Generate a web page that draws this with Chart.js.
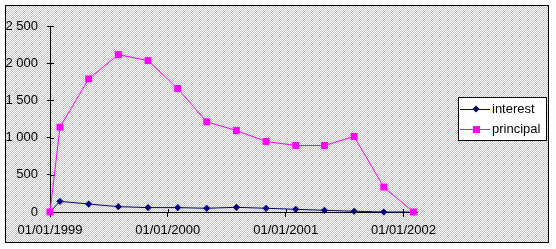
<!DOCTYPE html>
<html>
<head>
<meta charset="utf-8">
<script src="https://cdn.jsdelivr.net/npm/chart.js@4"></script>
<style>
html, body { margin: 0; padding: 0; background: #fff; }
</style>
</head>
<body>
<canvas id="loan-chart" width="556" height="249"></canvas>
<script>
// values
const pointDates = [
    '1999-01-01', '1999-02-01', '1999-05-01', '1999-08-01', '1999-11-01',
    '2000-02-01', '2000-05-01', '2000-08-01', '2000-11-01',
    '2001-02-01', '2001-05-01', '2001-08-01', '2001-11-01', '2002-02-01'
];
const interest = [0, 143, 107, 72, 59, 59, 50, 63, 50, 36, 23, 10, 0, 0];
const principal = [0, 1140, 1790, 2115, 2035, 1660, 1212, 1095, 948, 894, 894, 1015, 335, 0];
const xTickDates = ['1999-01-01', '2000-01-01', '2001-01-01', '2002-01-01'];
const yTicks = [0, 500, 1000, 1500, 2000, 2500];

const FONT = { family: 'Liberation Sans, Arial, sans-serif', size: 13 };
const DAY = 86400000;
const origin = Date.parse(pointDates[0]);

function dayOf(s) {
    return (Date.parse(s) - origin) / DAY;
}

function formatDate(days) {
    const d = new Date(origin + Math.round(days) * DAY);
    const pad = n => String(n).padStart(2, '0');
    return `${pad(d.getUTCDate())}/${pad(d.getUTCMonth() + 1)}/${d.getUTCFullYear()}`;
}

function formatNumber(v) {
    return String(v).replace(/\B(?=(\d{3})+(?!\d))/g, ' ');
}

function makeDither(ctx) {
    const c = document.createElement('canvas');
    c.width = 2;
    c.height = 2;
    const g = c.getContext('2d');
    g.fillStyle = '#ffffff';
    g.fillRect(0, 0, 2, 2);
    g.fillStyle = '#c0c0c0';
    g.fillRect(1, 0, 1, 1);
    g.fillRect(0, 1, 1, 1);
    return ctx.createPattern(c, 'repeat');
}

function drawMarker(ctx, style, x, y, color) {
    ctx.fillStyle = color;
    ctx.beginPath();
    if (style === 'rect') {
        ctx.rect(x - 3, y - 3, 7, 7);
    } else {
        ctx.moveTo(x, y - 3.5);
        ctx.lineTo(x + 3.5, y);
        ctx.lineTo(x, y + 3.5);
        ctx.lineTo(x - 3.5, y);
        ctx.closePath();
    }
    ctx.fill();
}

const backgroundPlugin = {
    id: 'background',
    beforeDraw(chart) {
        const ctx = chart.ctx;
        ctx.save();
        ctx.fillStyle = '#fff';
        ctx.fillRect(0, 0, chart.width, chart.height);
        ctx.fillStyle = makeDither(ctx);
        ctx.fillRect(5, 5, 544, 238);
        ctx.strokeStyle = '#000';
        ctx.lineWidth = 1;
        ctx.strokeRect(5.5, 5.5, 543, 237);
        ctx.restore();
    }
};

// inner halves of the cross tick marks
const innerTicksPlugin = {
    id: 'innerTicks',
    beforeDatasetsDraw(chart) {
        const ctx = chart.ctx;
        const xs = chart.scales.x;
        const ys = chart.scales.y;
        const area = chart.chartArea;
        ctx.save();
        ctx.strokeStyle = '#000';
        ctx.lineWidth = 1;
        ctx.beginPath();
        xs.ticks.forEach(t => {
            const px = Math.round(xs.getPixelForValue(t.value)) + 0.5;
            ctx.moveTo(px, area.bottom - 3);
            ctx.lineTo(px, area.bottom);
        });
        ys.ticks.forEach(t => {
            const py = Math.round(ys.getPixelForValue(t.value)) + 0.5;
            ctx.moveTo(area.left, py);
            ctx.lineTo(area.left + 4, py);
        });
        ctx.stroke();
        ctx.restore();
    }
};

const legendPlugin = {
    id: 'boxLegend',
    afterDraw(chart) {
        const ctx = chart.ctx;
        ctx.save();
        ctx.fillStyle = '#fff';
        ctx.fillRect(458, 97, 88, 43);
        ctx.strokeStyle = '#000';
        ctx.lineWidth = 1;
        ctx.strokeRect(458.5, 97.5, 88, 43);
        ctx.font = `${FONT.size}px ${FONT.family}`;
        ctx.textBaseline = 'middle';
        chart.data.datasets.forEach((ds, i) => {
            const y = 109 + i * 20;
            ctx.strokeStyle = ds.borderColor;
            ctx.beginPath();
            ctx.moveTo(460, y + 0.5);
            ctx.lineTo(490, y + 0.5);
            ctx.stroke();
            drawMarker(ctx, ds.pointStyle, 476, y, ds.borderColor);
            ctx.fillStyle = '#000';
            ctx.fillText(ds.label, 492, y);
        });
        ctx.restore();
    }
};

const ctx = document.getElementById('loan-chart').getContext('2d');
new Chart(ctx, {
    type: 'line',
    data: {
        datasets: [
            {
                label: 'interest',
                data: pointDates.map((d, i) => ({ x: dayOf(d), y: interest[i] })),
                borderColor: '#000080',
                backgroundColor: '#000080',
                borderWidth: 1,
                pointStyle: 'rectRot',
                pointRadius: 3.6,
                pointBorderWidth: 0,
                tension: 0,
                clip: false,
                order: 1
            },
            {
                label: 'principal',
                data: pointDates.map((d, i) => ({ x: dayOf(d), y: principal[i] })),
                borderColor: '#ff00ff',
                backgroundColor: '#ff00ff',
                borderWidth: 1,
                pointStyle: 'rect',
                pointRadius: 4.9,
                pointBorderWidth: 0,
                tension: 0,
                clip: false,
                order: 0
            }
        ]
    },
    options: {
        responsive: false,
        animation: false,
        devicePixelRatio: 1,
        layout: { padding: { left: 0, right: 139, top: 26, bottom: 0 } },
        plugins: {
            legend: { display: false },
            tooltip: { enabled: false }
        },
        scales: {
            x: {
                type: 'linear',
                min: 0,
                max: dayOf('2002-02-12'),
                afterBuildTicks: scale => {
                    scale.ticks = xTickDates.map(d => ({ value: dayOf(d) }));
                },
                afterFit: scale => { scale.height = 37; },
                ticks: {
                    callback: v => formatDate(v),
                    color: '#000',
                    font: FONT,
                    padding: 6,
                    maxRotation: 0,
                    autoSkip: false
                },
                grid: { drawOnChartArea: false, color: '#000', tickLength: 5 },
                border: { color: '#000' }
            },
            y: {
                min: 0,
                max: 2500,
                afterBuildTicks: scale => {
                    scale.ticks = yTicks.map(v => ({ value: v }));
                },
                afterFit: scale => { scale.width = 50; },
                ticks: {
                    callback: v => formatNumber(v),
                    color: '#000',
                    font: FONT,
                    padding: 9
                },
                grid: { drawOnChartArea: false, color: '#000', tickLength: 3 },
                border: { color: '#000' }
            }
        }
    },
    plugins: [backgroundPlugin, innerTicksPlugin, legendPlugin]
});
</script>
</body>
</html>
